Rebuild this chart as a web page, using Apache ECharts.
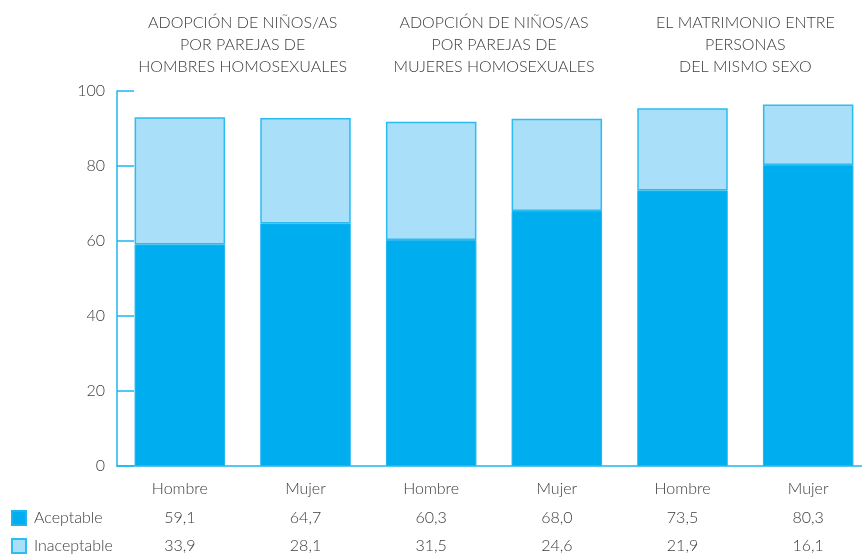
<!DOCTYPE html>
<html>
<head>
<meta charset="utf-8">
<script src="https://cdn.jsdelivr.net/npm/echarts@6/dist/echarts.min.js"></script>
<style>
  html, body { margin: 0; padding: 0; background: #fff; }
  #container { width: 862px; height: 555px; }
</style>
</head>
<body>
<div id="container"></div>
<script>
var categories = ['Hombre', 'Mujer', 'Hombre', 'Mujer', 'Hombre', 'Mujer'];
var groups = [
    'ADOPCIÓN DE NIÑOS/AS\nPOR PAREJAS DE\nHOMBRES HOMOSEXUALES',
    'ADOPCIÓN DE NIÑOS/AS\nPOR PAREJAS DE\nMUJERES HOMOSEXUALES',
    'EL MATRIMONIO ENTRE\nPERSONAS\nDEL MISMO SEXO'
];
var aceptable = [59.1, 64.7, 60.3, 68.0, 73.5, 80.3];
var inaceptable = [33.9, 28.1, 31.5, 24.6, 21.9, 16.1];

var font = 'Lato, "Open Sans", sans-serif';
var textColor = '#3c3c3c';
var axisColor = '#1cb6ef';

function fmt(v) {
    return v.toFixed(1).replace('.', ',');
}

printChart();

function printChart() {
    var dom = document.getElementById('container');
    var myChart = echarts.init(dom);
    var option = {
        animation: false,
        textStyle: { fontFamily: font },
        grid: {
            left: 117,
            top: 91,
            bottom: 89,
            width: 754,
            containLabel: false,
            outerBoundsMode: 'none'
        },
        legend: {
            orient: 'vertical',
            left: 11,
            top: 510,
            height: 60,
            padding: 0,
            itemWidth: 14,
            itemHeight: 14,
            itemGap: 12,
            icon: 'rect',
            textStyle: { fontSize: 16, color: textColor, fontFamily: font, fontWeight: 300, padding: [0, 0, 0, 3] },
            data: ['Aceptable', 'Inaceptable']
        },
        xAxis: [
            {
                type: 'category',
                data: categories,
                axisLine: { lineStyle: { color: axisColor, width: 1.5 } },
                axisTick: { show: false },
                axisLabel: {
                    interval: 0,
                    margin: 9,
                    formatter: function (value, idx) {
                        return value + '\n' + fmt(aceptable[idx]) + '\n' + fmt(inaceptable[idx]);
                    },
                    lineHeight: 28.5,
                    fontSize: 16,
                    fontWeight: 300,
                    color: textColor,
                    fontFamily: font
                }
            },
            {
                type: 'category',
                position: 'top',
                data: groups,
                gridIndex: 0,
                axisLine: { show: false },
                axisTick: { show: false },
                axisLabel: {
                    interval: 0,
                    hideOverlap: false,
                    margin: 13,
                    lineHeight: 22,
                    fontSize: 16,
                    fontWeight: 300,
                    color: textColor,
                    fontFamily: font,
                    align: 'center'
                }
            }
        ],
        yAxis: {
            type: 'value',
            min: 0,
            max: 100,
            interval: 20,
            splitLine: { show: false },
            axisLine: { show: true, lineStyle: { color: axisColor, width: 1.5 } },
            axisTick: { show: true, inside: true, length: 17, lineStyle: { color: axisColor, width: 1.5 } },
            axisLabel: {
                margin: 12,
                fontSize: 16,
                fontWeight: 300,
                color: textColor,
                fontFamily: font
            }
        },
        series: [
            {
                name: 'Aceptable',
                type: 'bar',
                stack: 'total',
                barWidth: '72%',
                data: aceptable,
                itemStyle: { color: '#00aeef', borderColor: '#1cb6ef', borderWidth: 1 }
            },
            {
                name: 'Inaceptable',
                type: 'bar',
                stack: 'total',
                barWidth: '72%',
                data: inaceptable,
                itemStyle: { color: '#a9dff9', borderColor: '#2bbcf0', borderWidth: 1.5 }
            }
        ]
    };
    myChart.setOption(option, true);
}
</script>
</body>
</html>
